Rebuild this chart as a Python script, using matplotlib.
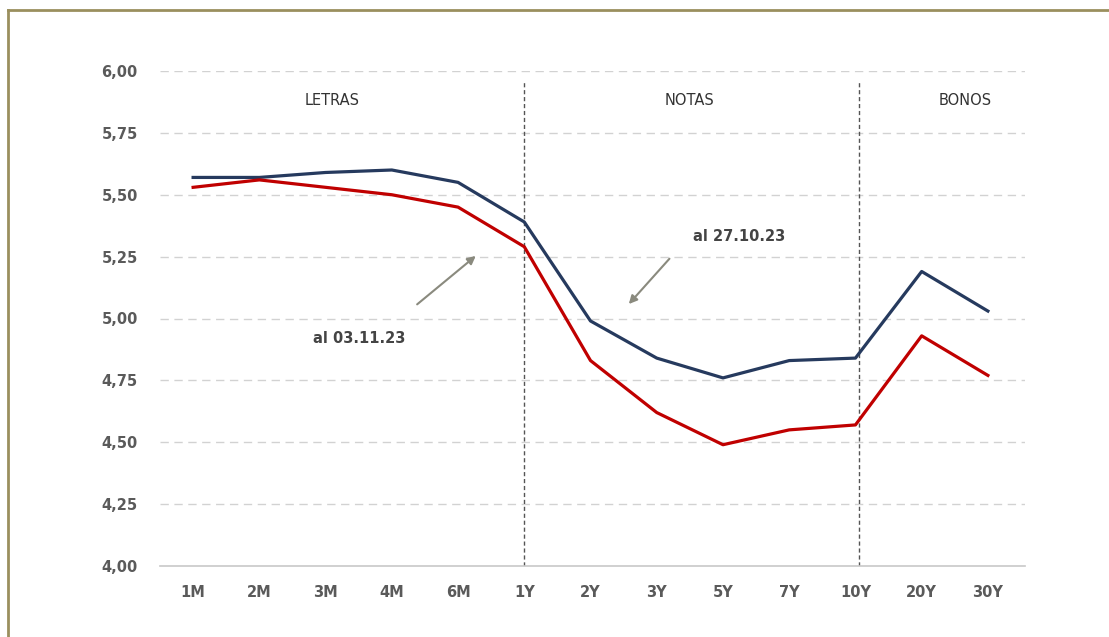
import matplotlib.pyplot as plt
from matplotlib.lines import Line2D

# === DATA ===
plazos = ['1M', '2M', '3M', '4M', '6M', '1Y', '2Y', '3Y', '5Y', '7Y', '10Y', '20Y', '30Y']
tasa_27oct = [5.57, 5.57, 5.59, 5.60, 5.55, 5.39, 4.99, 4.84, 4.76, 4.83, 4.84, 5.19, 5.03]
tasa_03nov = [5.53, 5.56, 5.53, 5.50, 5.45, 5.29, 4.83, 4.62, 4.49, 4.55, 4.57, 4.93, 4.77]
yticks = [4.00, 4.25, 4.50, 4.75, 5.00, 5.25, 5.50, 5.75, 6.00]
secciones = ['LETRAS', 'NOTAS', 'BONOS']
seccion_x = [2.1, 7.5, 11.65]
separadores = [5, 10.05]

plt.rcParams['font.family'] = ['DejaVu Sans']

fig = plt.figure(figsize=(11.09, 6.37), dpi=100)
ax = fig.add_axes([160 / 1109, (637 - 566) / 637, 865 / 1109, 495 / 637])

# === LINES ===
x = list(range(len(plazos)))
ax.plot(x, tasa_27oct, color='#263a5e', lw=2.3, solid_joinstyle='round', zorder=3)
ax.plot(x, tasa_03nov, color='#c00000', lw=2.3, solid_joinstyle='round', zorder=3)

# === AXES ===
ax.set_xlim(-0.5, 12.56)
ax.set_ylim(4.0, 6.0)
ax.set_yticks(yticks)
ax.set_yticklabels([f'{v:.2f}'.replace('.', ',') for v in yticks])
ax.set_xticks(x)
ax.set_xticklabels(plazos)
for lab in ax.get_xticklabels() + ax.get_yticklabels():
    lab.set_fontweight('bold')
    lab.set_fontsize(10.5)
    lab.set_color('#5a5a5a')
ax.tick_params(axis='both', length=0)
ax.tick_params(axis='x', pad=14)
ax.tick_params(axis='y', pad=16)
for s in ['top', 'right', 'left']:
    ax.spines[s].set_visible(False)
ax.spines['bottom'].set_color('#c8c8c8')
ax.spines['bottom'].set_linewidth(1.2)

for v in yticks[1:]:
    ax.axhline(v, color='#d2d2d2', lw=1, ls=(0, (6, 4)), zorder=1)

# section separators
for sx in separadores:
    ax.plot([sx, sx], [4.0, 5.96], color='#555555', lw=1, ls=(0, (3, 2)), zorder=2)

for name, sx in zip(secciones, seccion_x):
    ax.text(sx, 5.88, name, ha='center', va='center', fontsize=10.5, color='#333333')

# === ANNOTATIONS ===
ax.annotate('', xy=(4.3, 5.26), xytext=(3.35, 5.05),
            arrowprops=dict(arrowstyle='-|>', color='#8a8a7e', lw=1.5, mutation_scale=12))
ax.text(2.5, 4.92, 'al 03.11.23', fontsize=10.5, fontweight='bold', color='#444444',
        ha='center', va='center')
ax.annotate('', xy=(6.55, 5.05), xytext=(7.22, 5.25),
            arrowprops=dict(arrowstyle='-|>', color='#8a8a7e', lw=1.5, mutation_scale=12))
ax.text(8.25, 5.33, 'al 27.10.23', fontsize=10.5, fontweight='bold', color='#444444',
        ha='center', va='center')

# === FRAME ===
fig.add_artist(Line2D([8 / 1109, 8 / 1109], [0, (637 - 10) / 637], color='#9a8f5e',
                      lw=2, transform=fig.transFigure))
fig.add_artist(Line2D([8 / 1109, 1], [(637 - 10) / 637, (637 - 10) / 637], color='#9a8f5e',
                      lw=2, transform=fig.transFigure))

fig.savefig('out.png', dpi=100)
